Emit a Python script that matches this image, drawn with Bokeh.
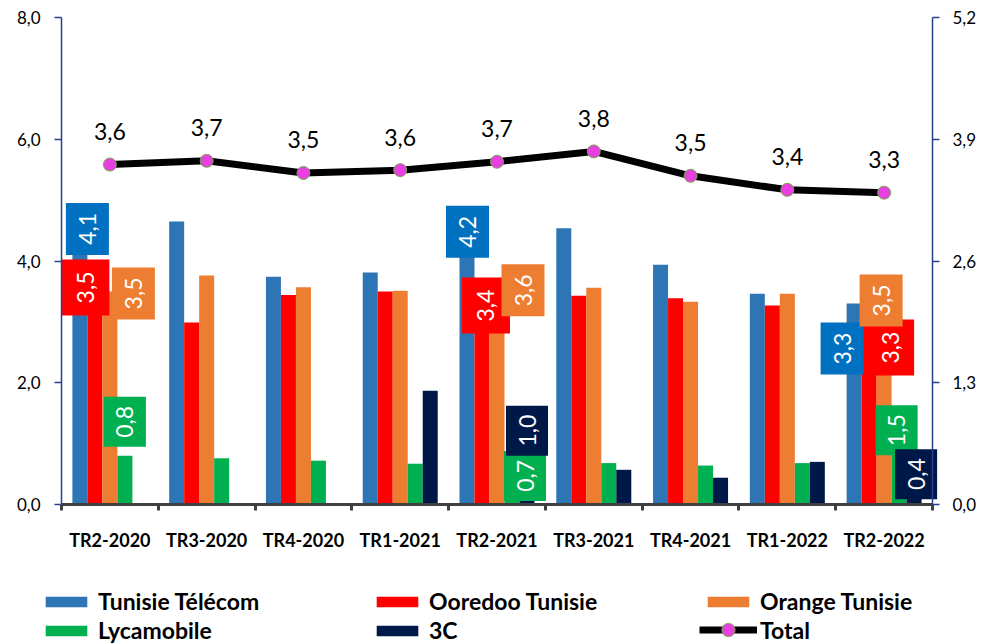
from math import pi
from bokeh.plotting import figure
from bokeh.models import (Range1d, LinearAxis, FixedTicker, CustomJSTickFormatter,
                          Legend, LegendItem, ColumnDataSource)
from bokeh.core.properties import value
from bokeh.embed import file_html
from bokeh.resources import INLINE

# ---------------- data ----------------
categories = ["TR2-2020", "TR3-2020", "TR4-2020", "TR1-2021", "TR2-2021",
              "TR3-2021", "TR4-2021", "TR1-2022", "TR2-2022"]
tunisie_telecom = [4.1, 4.65, 3.74, 3.81, 4.2, 4.54, 3.94, 3.46, 3.3]
ooredoo_tunisie = [3.5, 2.99, 3.44, 3.5, 3.4, 3.43, 3.39, 3.27, 3.3]
orange_tunisie = [3.5, 3.76, 3.57, 3.51, 3.6, 3.56, 3.33, 3.46, 3.5]
lycamobile = [0.8, 0.76, 0.72, 0.67, 0.7, 0.68, 0.64, 0.68, 1.5]
c3 = [0.0, 0.0, 0.0, 1.87, 1.0, 0.57, 0.44, 0.70, 0.4]
total = [3.63, 3.67, 3.54, 3.57, 3.66, 3.77, 3.51, 3.36, 3.33]

series_names = ["Tunisie Télécom", "Ooredoo Tunisie", "Orange Tunisie", "Lycamobile", "3C"]
series_values = [tunisie_telecom, ooredoo_tunisie, orange_tunisie, lycamobile, c3]
left_ticks = [0, 2, 4, 6, 8]
right_ticks = [0, 1.3, 2.6, 3.9, 5.2]
left_max, right_max = 8, 5.2
labelled_categories = [0, 4, 8]

# ---------------- styles ----------------
bar_colors = ["#2E75B6", "#FF0000", "#ED7D31", "#00B050", "#001848"]
box_colors = ["#0070C0", "#FF0000", "#ED7D31", "#00B050", "#001848"]
box_sizes = [(43, 52), (48, 56), (43, 52), (42, 50), (42, 50)]
bar_w = 0.155
bar_offsets = [-2 * bar_w, -bar_w, 0, bar_w, 2 * bar_w]
# label offsets (px, screen, +dy downward) relative to bar top centre
label_offsets = {
    (0, 0): (7.5, -26), (0, 1): (-9.5, -4), (0, 2): (23.5, 2), (0, 3): (0, -34),
    (4, 0): (0.5, -17), (4, 1): (4, 8), (4, 2): (26, 5), (4, 3): (13, 14), (4, 4): (0, -13),
    (8, 0): (-12, 45), (8, 1): (21, 44), (8, 2): (-3, 9), (8, 3): (-2.5, 17), (8, 4): (2, -6),
}
FONT = "Lato"
AXIS_BLUE = "#2B3F8C"
TOTAL_FILL = "#E83FE0"
TOTAL_EDGE = "#70AD47"

# page geometry (px): plot area box inside a full-canvas frame
W, H = 980, 644
AREA_L, AREA_R, AREA_T, AREA_B = 61, 932, 17, 504
n = len(categories)
px_x = (AREA_R - AREA_L) / n
px_y = (AREA_B - AREA_T) / left_max
px_t = (AREA_B - AREA_T) / right_max

x_rng = Range1d(-0.5 - AREA_L / px_x, n - 0.5 + (W - AREA_R) / px_x)
y_rng = Range1d(-(H - AREA_B) / px_y, left_max + AREA_T / px_y)
t_rng = Range1d(-(H - AREA_B) / px_t, right_max + AREA_T / px_t)

p = figure(width=W, height=H, output_backend="svg", toolbar_location=None,
           x_range=x_rng, y_range=y_rng, x_axis_location=None, y_axis_location=None,
           min_border_left=0, min_border_right=0, min_border_top=0, min_border_bottom=0)
p.outline_line_color = None
p.grid.visible = False
p.extra_y_ranges = {"tot": t_rng}

fmt = CustomJSTickFormatter(code="return tick.toFixed(1).replace('.', ',')")

# x axis (drawn at y = 0)
xa = LinearAxis(fixed_location=0, bounds=(-0.5, n - 0.5),
                ticker=FixedTicker(ticks=list(range(n)), minor_ticks=[i - 0.5 for i in range(n + 1)]))
xa.major_label_overrides = {i: c for i, c in enumerate(categories)}
xa.axis_line_color = "#404040"
xa.axis_line_width = 3
xa.major_tick_line_color = None
xa.major_tick_out = 0
xa.major_tick_in = 0
xa.minor_tick_line_color = "#404040"
xa.minor_tick_line_width = 3
xa.minor_tick_out = 6
xa.minor_tick_in = 0
xa.major_label_standoff = 18
xa.major_label_text_font = FONT
xa.major_label_text_font_style = "bold"
xa.major_label_text_font_size = "18px"
xa.major_label_text_color = "black"
p.add_layout(xa, "below")

# left axis
ya = LinearAxis(fixed_location=-0.5, bounds=(0, left_max),
                ticker=FixedTicker(ticks=left_ticks), formatter=fmt)
# right axis
ra = LinearAxis(y_range_name="tot", fixed_location=n - 0.5, bounds=(0, right_max),
                ticker=FixedTicker(ticks=right_ticks), formatter=fmt)
for ax, standoff in ((ya, 14), (ra, 13)):
    ax.axis_line_color = AXIS_BLUE
    ax.axis_line_width = 1.5
    ax.major_tick_line_color = AXIS_BLUE
    ax.major_tick_line_width = 1.5
    ax.major_tick_out = 7
    ax.major_tick_in = 0
    ax.minor_tick_line_color = None
    ax.major_label_standoff = standoff
    ax.major_label_text_font = FONT
    ax.major_label_text_font_size = "17px"
    ax.major_label_text_color = "black"
p.add_layout(ya, "left")
p.add_layout(ra, "right")

xs = list(range(n))

# bars
bar_renderers = []
for k, (name, vals) in enumerate(zip(series_names, series_values)):
    src = ColumnDataSource(dict(x=[x + bar_offsets[k] for x in xs], top=vals))
    bar_renderers.append(p.vbar(x="x", top="top", bottom=0, width=bar_w, source=src,
                                fill_color=bar_colors[k], line_color=None))

# bar data labels (boxes)
for k, vals in enumerate(series_values):
    bx, by, bt = [], [], []
    for i in labelled_categories:
        if (i, k) not in label_offsets or vals[i] <= 0:
            continue
        dx, dy = label_offsets[(i, k)]
        bx.append(i + bar_offsets[k] + dx / px_x)
        by.append(vals[i] - dy / px_y)
        bt.append(f"{vals[i]:.1f}".replace(".", ","))
    if not bx:
        continue
    src = ColumnDataSource(dict(x=bx, y=by, t=bt))
    bw, bh = box_sizes[k]
    p.rect(x="x", y="y", width=bw, height=bh, width_units="screen", height_units="screen",
           fill_color=box_colors[k], line_color=None, source=src)
    p.text(x="x", y="y", text="t", angle=pi / 2, text_align="center", text_baseline="middle",
           text_color="white", text_font=value(FONT), text_font_size="23px", source=src)

# total line
tsrc = ColumnDataSource(dict(x=xs, y=total, t=[f"{v:.1f}".replace(".", ",") for v in total]))
line_r = p.line(x="x", y="y", y_range_name="tot", source=tsrc, line_color="black", line_width=7)
mark_r = p.scatter(x="x", y="y", y_range_name="tot", source=tsrc, size=13,
                   fill_color=TOTAL_FILL, line_color=TOTAL_EDGE, line_width=1)
p.text(x="x", y="y", text="t", y_range_name="tot", source=tsrc, y_offset=-33,
       text_align="center", text_baseline="middle", text_color="black",
       text_font=value(FONT), text_font_size="23px")

# ---------------- legend: three columns of two ----------------
legend_labels = series_names + ["Total"]
legend_renderers = [[r] for r in bar_renderers] + [[line_r, mark_r]]
# (item indexes, x, y-location, glyph height)
legend_blocks = [([0, 3], 40, 0, 13), ([1, 4], 371, 0, 13),
                 ([2], 702, 29, 13), ([5], 699, -2, 33)]
for idxs, cx, cy, gh in legend_blocks:
    items = [LegendItem(label=legend_labels[j], renderers=legend_renderers[j]) for j in idxs]
    leg = Legend(items=items, location=(cx, cy), orientation="vertical",
                 glyph_width=52 if gh == 13 else 58, glyph_height=gh, label_standoff=6 if gh == 13 else 3,
                 label_height=28, spacing=1, padding=0, margin=0,
                 border_line_color=None, background_fill_alpha=0,
                 label_text_font=FONT, label_text_font_style="bold",
                 label_text_font_size="23px", label_text_color="black")
    p.add_layout(leg, "center")

open("out.html", "w").write(file_html(p, INLINE))
